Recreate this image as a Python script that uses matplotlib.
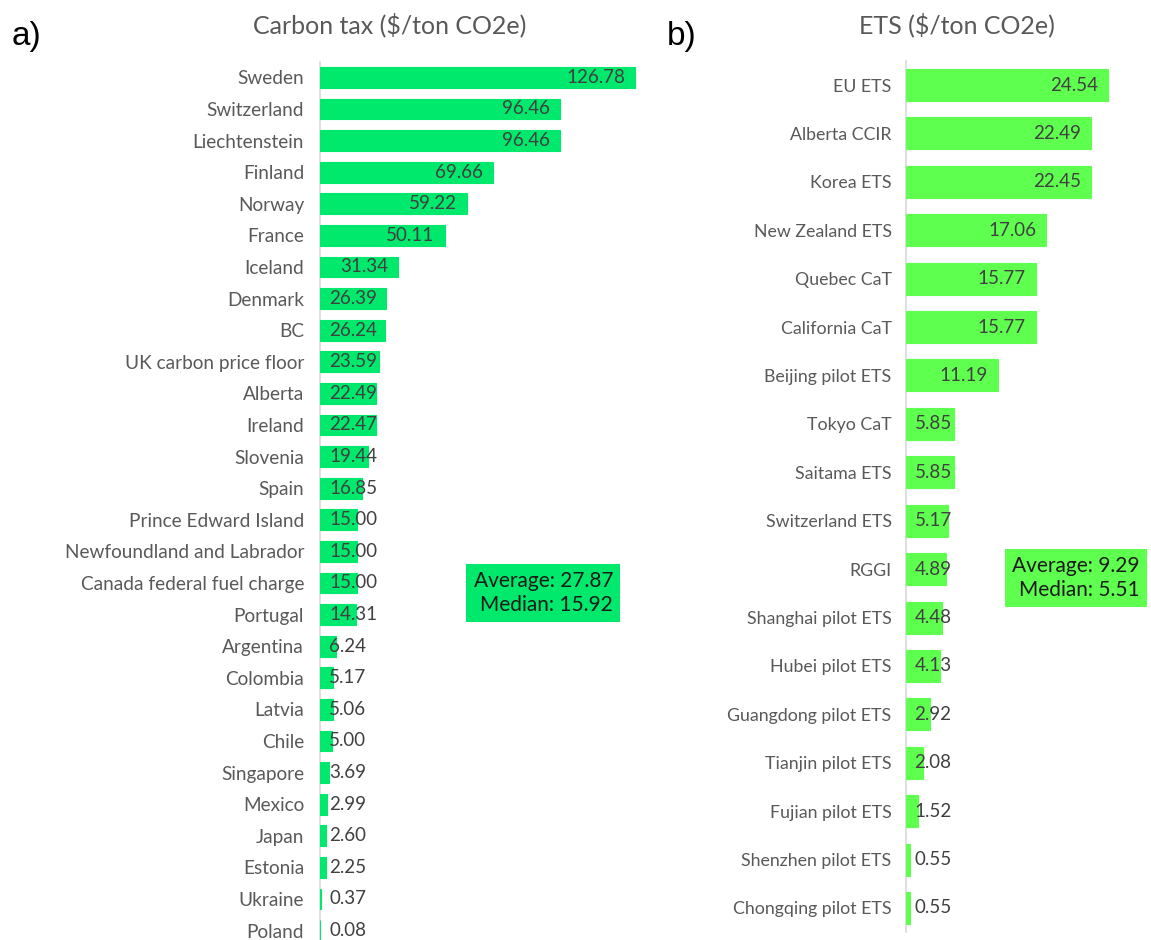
import matplotlib
matplotlib.use("Agg")
import matplotlib.pyplot as plt
import numpy as np

# carbon tax ($/ton CO2e)
tax_names = ["Sweden", "Switzerland", "Liechtenstein", "Finland", "Norway", "France",
             "Iceland", "Denmark", "BC", "UK carbon price floor", "Alberta", "Ireland",
             "Slovenia", "Spain", "Prince Edward Island", "Newfoundland and Labrador",
             "Canada federal fuel charge", "Portugal", "Argentina", "Colombia", "Latvia",
             "Chile", "Singapore", "Mexico", "Japan", "Estonia", "Ukraine", "Poland"]
tax_values = [126.78, 96.46, 96.46, 69.66, 59.22, 50.11, 31.34, 26.39, 26.24, 23.59,
              22.49, 22.47, 19.44, 16.85, 15.00, 15.00, 15.00, 14.31, 6.24, 5.17, 5.06,
              5.00, 3.69, 2.99, 2.60, 2.25, 0.37, 0.08]
tax_stats = "Average: 27.87\nMedian: 15.92"

# ETS ($/ton CO2e)
ets_names = ["EU ETS", "Alberta CCIR", "Korea ETS", "New Zealand ETS", "Quebec CaT",
             "California CaT", "Beijing pilot ETS", "Tokyo CaT", "Saitama ETS",
             "Switzerland ETS", "RGGI", "Shanghai pilot ETS", "Hubei pilot ETS",
             "Guangdong pilot ETS", "Tianjin pilot ETS", "Fujian pilot ETS",
             "Shenzhen pilot ETS", "Chongqing pilot ETS"]
ets_values = [24.54, 22.49, 22.45, 17.06, 15.77, 15.77, 11.19, 5.85, 5.85, 5.17, 4.89,
              4.48, 4.13, 2.92, 2.08, 1.52, 0.55, 0.55]
ets_stats = "Average: 9.29\nMedian: 5.51"

FONT = "Lato"
GREY = "#595959"
W, H = 1151, 940
fig = plt.figure(figsize=(W / 100, H / 100), dpi=100)


def px(x0, y_top, x1, y_bot):
    return [x0 / W, 1 - y_bot / H, (x1 - x0) / W, (y_bot - y_top) / H]


def panel(rect, names, values, xmax, color, bar_h, fs, pad):
    ax = fig.add_axes(rect)
    y = np.arange(len(names))
    ax.barh(y, values, height=bar_h, color=color, edgecolor=color, linewidth=0.8)
    ax.set_xlim(0, xmax)
    ax.set_ylim(len(names) - 0.5, -0.5)
    ax.set_yticks(y, names, fontsize=fs, family=FONT, color=GREY)
    ax.tick_params(axis="y", length=0, pad=pad)
    ax.set_xticks([])
    for s in ["top", "right", "bottom"]:
        ax.spines[s].set_visible(False)
    ax.spines["left"].set_color("#d9d9d9")
    ax.spines["left"].set_linewidth(1.2)
    ax.spines["left"].set_zorder(0.5)
    texts = [ax.annotate(f"{v:.2f}", (0, i), xytext=(0, 0), textcoords="offset points",
                         ha="left", va="center", fontsize=13.5, family=FONT, color="#404040")
             for i, v in enumerate(values)]
    return ax, texts


ax1, t1 = panel(px(320, 61.6, 668, 946.4), tax_names, tax_values, 140, "#00e96c", 0.66,
                13.7, 11.5)
ax2, t2 = panel(px(905.5, 60.8, 1153, 932.2), ets_names, ets_values, 30, "#5fff4f", 0.66,
                12.8, 10)

# Excel-style "inside end" labels that slide to the bar base when they don't fit
fig.canvas.draw()
r = fig.canvas.get_renderer()
for ax, texts, values in [(ax1, t1, tax_values), (ax2, t2, ets_values)]:
    for t, v in zip(texts, values):
        w = t.get_window_extent(r).width
        bar_px = ax.transData.transform((v, 0))[0] - ax.transData.transform((0, 0))[0]
        left = max(9, bar_px - 10 - w)
        t.xyann = (left * 72 / 100, 0)

fig.text(390 / W, 1 - 25 / H, "Carbon tax ($/ton CO2e)", ha="center", va="center",
         fontsize=18, family=FONT, color=GREY)
fig.text(957 / W, 1 - 25 / H, "ETS ($/ton CO2e)", ha="center", va="center",
         fontsize=18, family=FONT, color=GREY)
fig.text(12 / W, 1 - 37 / H, "a)", ha="left", va="center", fontsize=24,
         family="Liberation Sans", color="black")
fig.text(667 / W, 1 - 37 / H, "b)", ha="left", va="center", fontsize=24,
         family="Liberation Sans", color="black")

for xr, yc, s, c in [(613, 593, tax_stats, "#00e96c"), (1140, 578, ets_stats, "#5fff4f")]:
    fig.text(xr / W, 1 - yc / H, s, ha="right", va="center", multialignment="right",
             fontsize=15, family=FONT, color="#1a1a1a", linespacing=1.25,
             bbox=dict(boxstyle="square,pad=0.35", fc=c, ec="none"))

fig.savefig("out.png", dpi=100)
